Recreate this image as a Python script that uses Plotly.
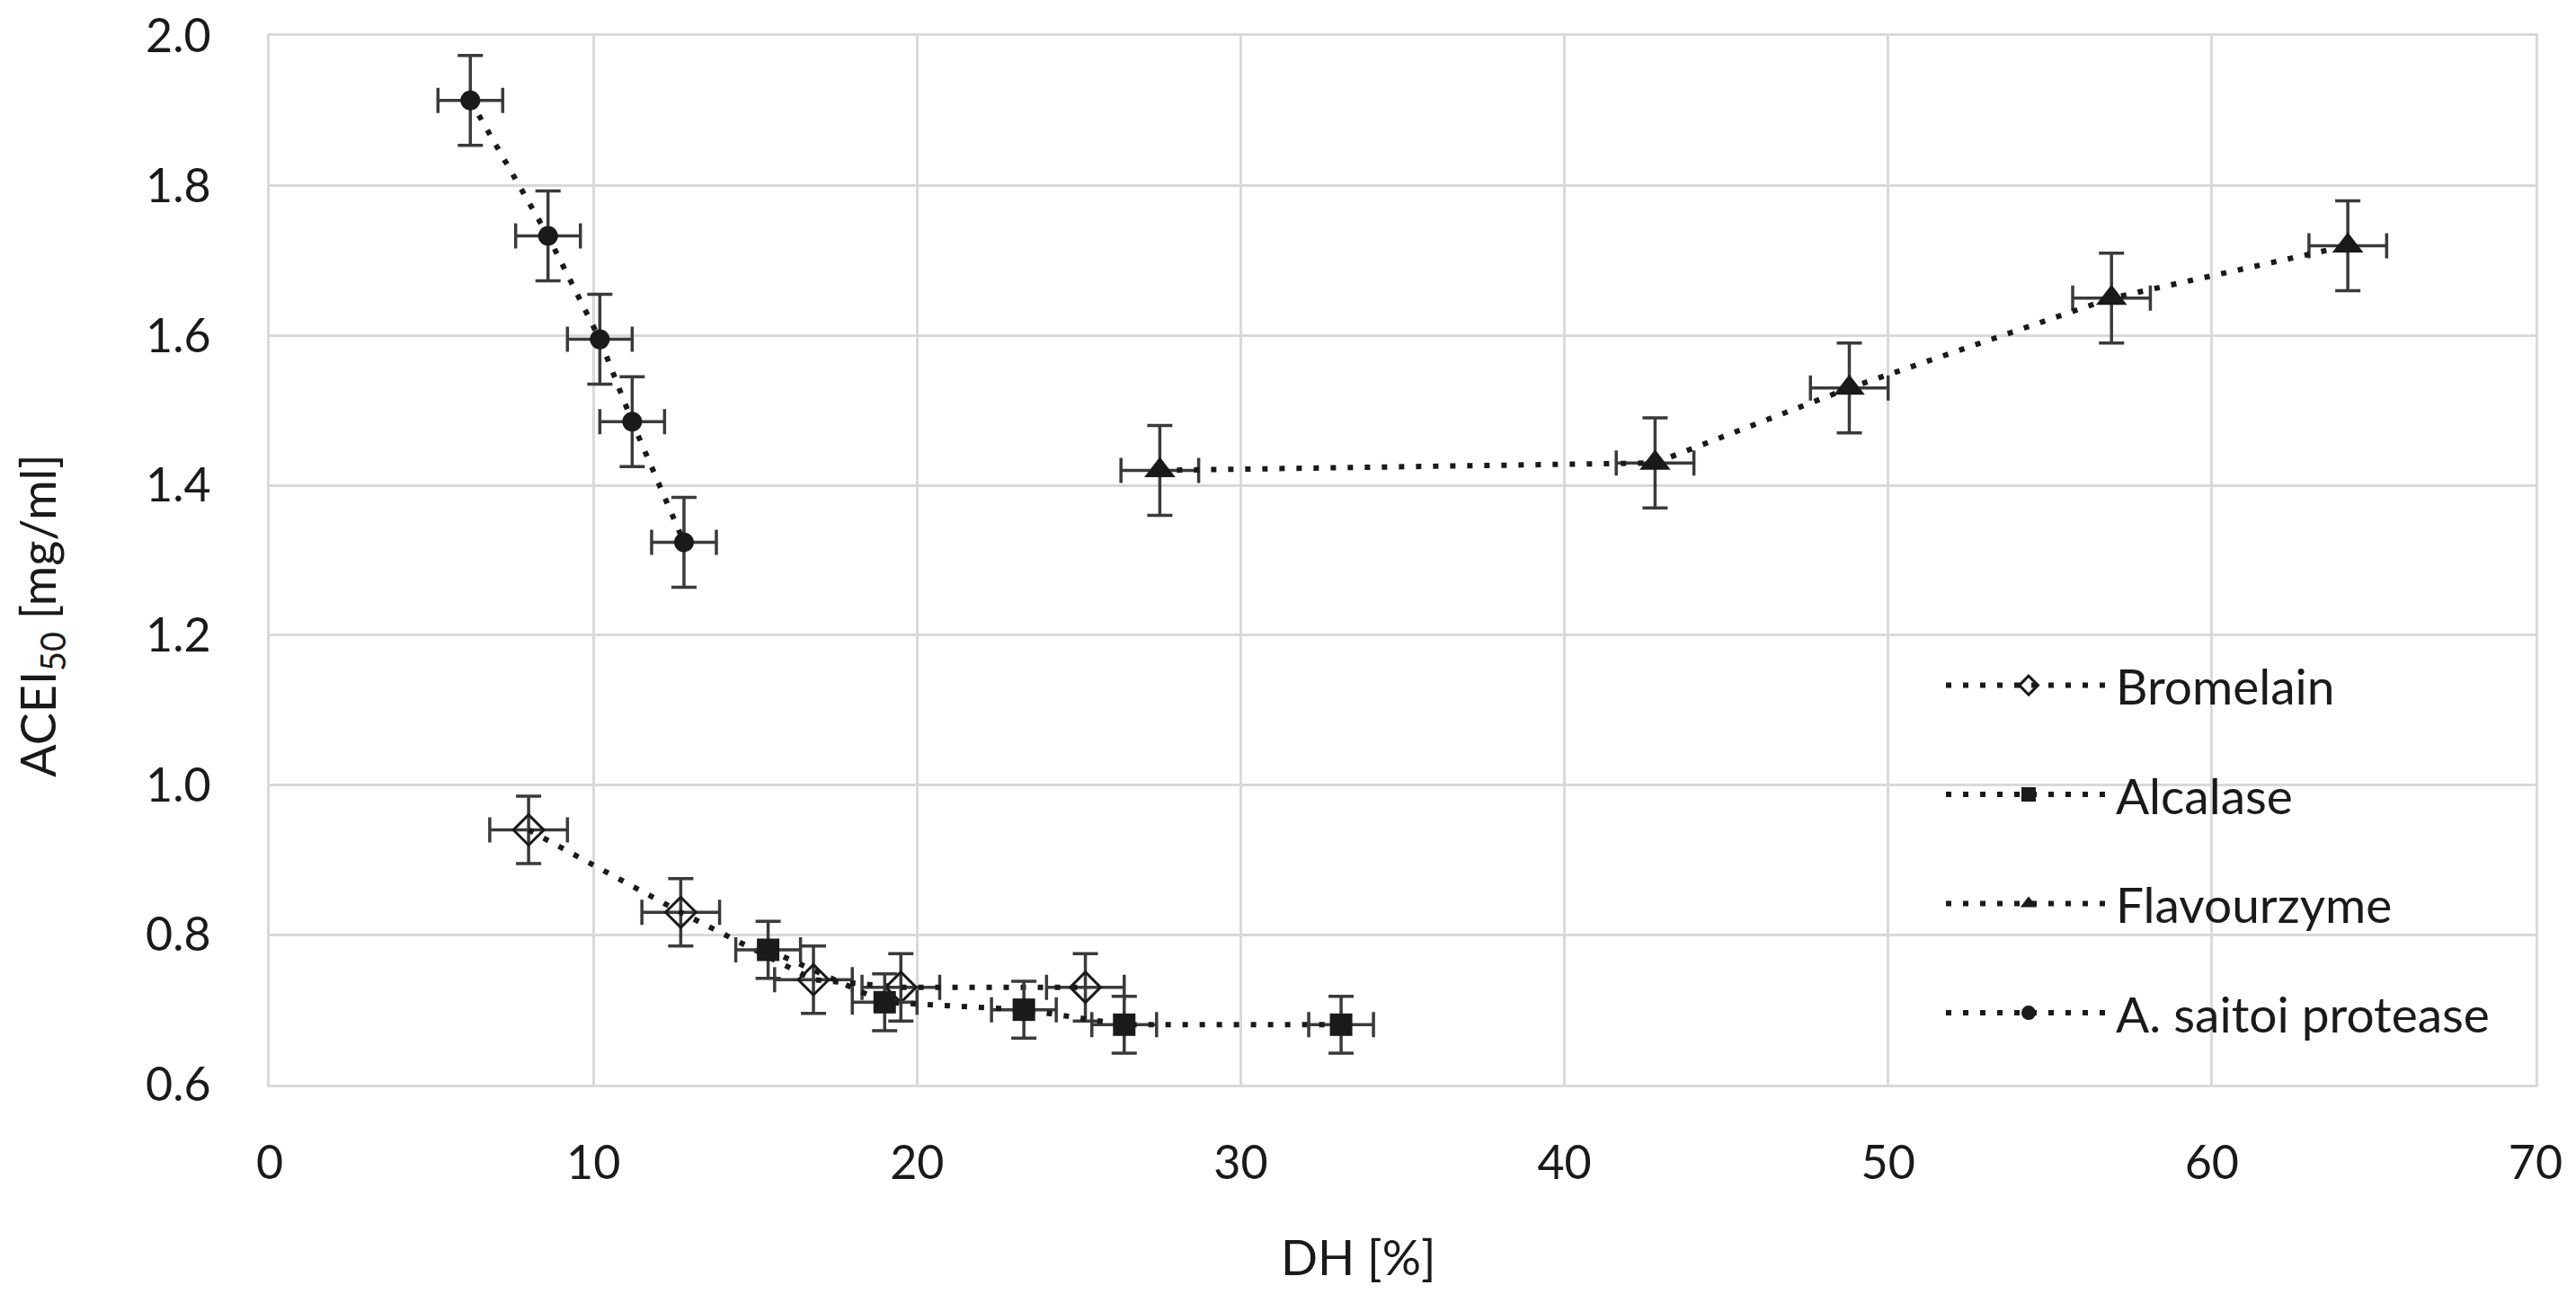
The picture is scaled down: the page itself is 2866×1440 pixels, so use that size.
import plotly.graph_objects as go

# ---- data ----
bromelain_dh = [8.0, 12.7, 16.8, 19.5, 25.2]
bromelain_ace = [0.94, 0.83, 0.74, 0.73, 0.73]
bromelain_err_y = 0.045
bromelain_err_x = 1.2

alcalase_dh = [15.4, 19.0, 23.3, 26.4, 33.1]
alcalase_ace = [0.78, 0.71, 0.70, 0.68, 0.68]
alcalase_err_y = 0.038
alcalase_err_x = 1.0

flavourzyme_dh = [27.5, 42.8, 48.8, 56.9, 64.2]
flavourzyme_ace = [1.42, 1.43, 1.53, 1.65, 1.72]
flavourzyme_err_y = 0.06
flavourzyme_err_x = 1.2

saitoi_dh = [6.2, 8.6, 10.2, 11.2, 12.8]
saitoi_ace = [1.914, 1.733, 1.595, 1.485, 1.324]
saitoi_err_y = 0.06
saitoi_err_x = 1.0

x_ticks = [0, 10, 20, 30, 40, 50, 60, 70]
y_ticks = [0.6, 0.8, 1.0, 1.2, 1.4, 1.6, 1.8, 2.0]

FONT = "Lato"
INK = "#1a1a1a"
ERR = "#3a3a3a"
GRID = "#d9d9d9"
DOT = "6px,13px"

series = [
    ("Bromelain", bromelain_dh, bromelain_ace, bromelain_err_x, bromelain_err_y,
     dict(symbol="diamond-open", size=26, color=INK, line=dict(width=3, color=INK))),
    ("Alcalase", alcalase_dh, alcalase_ace, alcalase_err_x, alcalase_err_y,
     dict(symbol="square", size=25, color=INK)),
    ("Flavourzyme", flavourzyme_dh, flavourzyme_ace, flavourzyme_err_x, flavourzyme_err_y,
     dict(symbol="triangle-up", size=30, color=INK)),
    ("A. saitoi protease", saitoi_dh, saitoi_ace, saitoi_err_x, saitoi_err_y,
     dict(symbol="circle", size=22, color=INK)),
]

fig = go.Figure()
for name, xs, ys, ex, ey, mk in series:
    fig.add_trace(go.Scatter(
        x=xs, y=ys, name=name, mode="lines+markers",
        legendgroup=name,
        line=dict(color=INK, width=6, dash=DOT),
        marker=mk,
        error_x=dict(type="constant", value=ex, color=ERR, thickness=3.5, width=14),
        error_y=dict(type="constant", value=ey, color=ERR, thickness=3.5, width=14),
    ))

# white panel behind the legend (covers gridlines like the original)
fig.add_shape(type="rect", xref="paper", yref="paper",
              x0=0.719, x1=0.9984, y0=0.0094, y1=0.4259,
              fillcolor="white", line=dict(width=0), layer="between")

# page body has an 8px margin: shrink the figure so the plot lands where the reference has it
fig.update_layout(
    width=2850, height=1424,
    margin=dict(l=292, r=37, t=32, b=225, autoexpand=False),
    paper_bgcolor="white", plot_bgcolor="white",
    font=dict(family=FONT, size=54, color=INK),
    showlegend=True,
    legend=dict(x=0.7378, y=0.417, xanchor="left", yanchor="top",
                bgcolor="rgba(0,0,0,0)", borderwidth=0,
                font=dict(family=FONT, size=55, color=INK),
                itemwidth=184, tracegroupgap=47, traceorder="grouped"),
    xaxis=dict(range=[0, 70], tickvals=x_ticks, showgrid=True, gridcolor=GRID, gridwidth=3,
               showline=True, linecolor=GRID, linewidth=3, mirror=True, zeroline=False,
               ticks="", ticklabelstandoff=40, ticklabeloverflow="allow", automargin=False,
               tickfont=dict(size=52, color=INK)),
    yaxis=dict(range=[0.6, 2.0], tickvals=y_ticks, tickformat=".1f", showgrid=True,
               gridcolor=GRID, gridwidth=3, showline=True, linecolor=GRID, linewidth=3,
               mirror=True, zeroline=False, ticks="", ticklabelstandoff=52,
               ticklabeloverflow="allow", automargin=False,
               tickfont=dict(size=52, color=INK)),
    annotations=[
        dict(text="DH [%]", xref="paper", yref="paper", x=0.4804, y=-0.1637,
             xanchor="center", yanchor="middle", showarrow=False,
             font=dict(family=FONT, size=54, color=INK)),
        dict(text="ACEI<sub>50</sub> [mg/ml]", xref="paper", yref="paper", x=-0.1012, y=0.4473,
             xanchor="center", yanchor="middle", textangle=-90, showarrow=False,
             font=dict(family=FONT, size=54, color=INK)),
    ],
)

fig.write_html("out.html")
